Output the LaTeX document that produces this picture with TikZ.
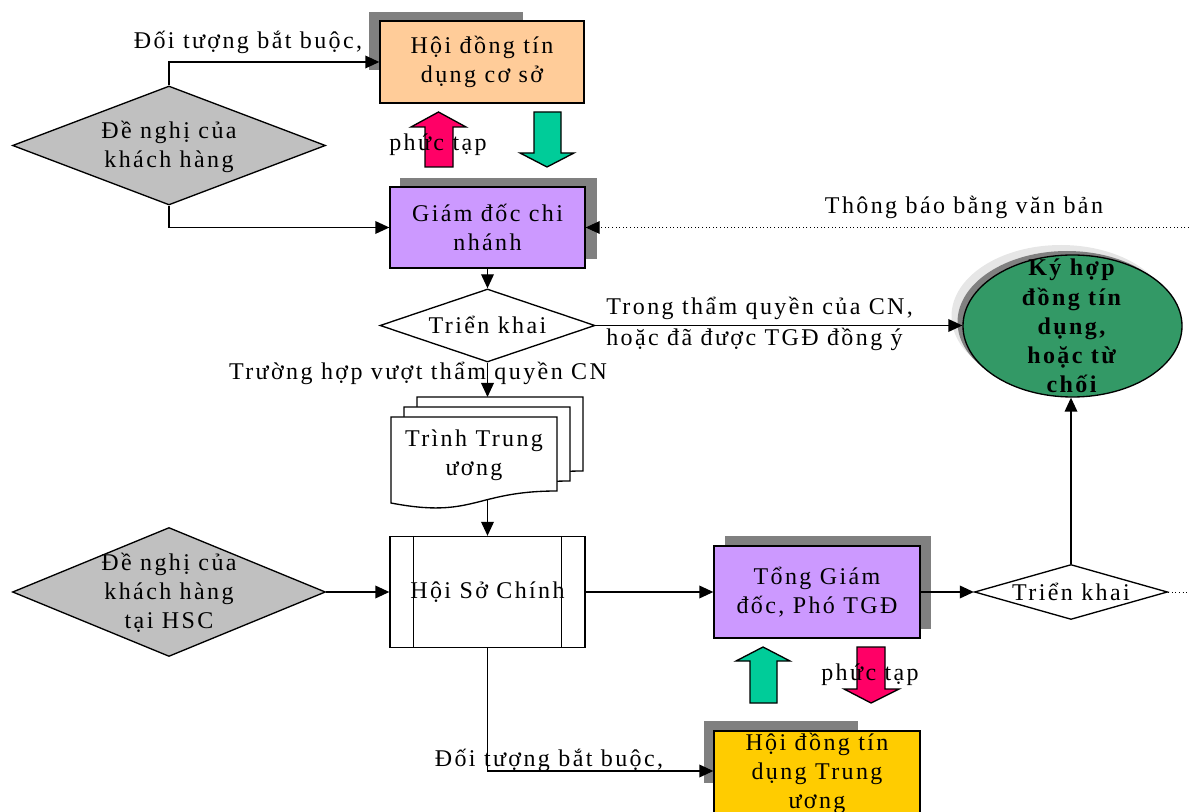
\documentclass[tikz,border=0pt]{standalone}
\usepackage{fontspec}
\setmainfont{Liberation Serif}[LetterSpace=10]
\usetikzlibrary{shapes.geometric,arrows.meta,calc}
\definecolor{orangebox}{HTML}{FFCC99}
\definecolor{purplebox}{HTML}{CC99FF}
\definecolor{yellowbox}{HTML}{FFCC00}
\definecolor{greyfill}{HTML}{C0C0C0}
\definecolor{shadowgrey}{HTML}{808080}
\definecolor{lightshadow}{HTML}{E6E6E6}
\definecolor{ellgreen}{HTML}{339966}
\definecolor{arrowpink}{HTML}{FF0066}
\definecolor{arrowgreen}{HTML}{00CC99}
\begin{document}
\begin{tikzpicture}[x=0.75pt,y=-0.75pt,
  every node/.style={font=\fontsize{18pt}{21.75pt}\selectfont},
  lbl/.style={align=center, inner sep=0pt},
  boxnode/.style={draw, line width=1pt, inner sep=0pt, align=center},
  dia/.style={diamond, draw, line width=1pt, inner sep=0pt},
  conn/.style={line width=1pt, -{Triangle[length=10.5pt,width=9.5pt]}},
  plainline/.style={line width=1pt},
  dots/.style={line width=0.7pt, dotted},
  shadowfill/.style={fill=shadowgrey},
  blockarrow/.style={draw, line width=1pt},
  page/.style={draw, fill=white, line width=1pt}
]
\useasboundingbox (0,0) rectangle (1189,812);

% ---------- shadows ----------
\fill[shadowfill] (369,12) rectangle (523,70);
\fill[shadowfill] (400,178) rectangle (597,259);
\fill[shadowfill] (725,536) rectangle (931,629);
\fill[shadowfill] (704,721) rectangle (858,783);

% ---------- boxes ----------
\node[boxnode, fill=orangebox, minimum width=153pt, minimum height=61.5pt] (hdcs) at (482,62) {Hội đồng tín\\dụng cơ sở};
\node[boxnode, fill=purplebox, minimum width=146.25pt, minimum height=60.75pt] (gdcn) at (487.5,227.5) {Giám đốc chi\\nhánh};
\node[boxnode, fill=purplebox, minimum width=154.5pt, minimum height=69pt] (tgd) at (817,592) {Tổng Giám\\đốc, Phó TGĐ};
\node[boxnode, fill=yellowbox, minimum width=154.5pt, minimum height=90pt] (hdtw) at (817,791) {};
\node[lbl, anchor=north] (hdtwt) at (817,733) {Hội đồng tín\\dụng Trung\\ương};

% Hoi So Chinh (predefined process)
\node[boxnode, fill=white, minimum width=146.25pt, minimum height=83.25pt] (hsc) at (487.5,592) {Hội Sở Chính};
\draw[plainline] ([xshift=18pt]hsc.north west) -- ([xshift=18pt]hsc.south west);
\draw[plainline] ([xshift=-18pt]hsc.north east) -- ([xshift=-18pt]hsc.south east);

% ---------- diamonds ----------
\node[dia, fill=greyfill, minimum width=234.75pt, minimum height=89.25pt] (d1) at (169,145.5) {};
\node[lbl] (d1t) at (169,147) {Đề nghị của\\khách hàng};
\node[dia, fill=white, minimum width=161.25pt, minimum height=54.75pt] (d2) at (487.5,325.5) {};
\node[lbl] (d2t) at (487.5,325) {Triển khai};
\node[dia, fill=greyfill, minimum width=234.75pt, minimum height=96.75pt] (d3) at (169,592) {};
\node[lbl] (d3t) at (169,593) {Đề nghị của\\khách hàng\\tại HSC};
\node[dia, fill=white, minimum width=144.75pt, minimum height=41.25pt] (d4) at (1071,592) {};
\node[lbl] (d4t) at (1071,592) {Triển khai};

% ---------- ellipse ----------
\fill[lightshadow] (1061,316) ellipse [x radius=109.5, y radius=71];
\fill[shadowgrey] (1067,322) ellipse [x radius=109.5, y radius=71];
\node[ellipse, draw, line width=1pt, fill=ellgreen, minimum width=164.25pt, minimum height=106.5pt, inner sep=0pt] (ell) at (1072.5,326) {};
\node[lbl, font=\fontsize{18pt}{21.9pt}\selectfont\bfseries] (ellt) at (1071.5,326) {Ký hợp\\đồng tín\\dụng,\\hoặc từ\\chối};

% ---------- multi-document ----------
\foreach \dx/\dy in {26/-20, 13/-10, 0/0}{
  \draw[page] (391+\dx,417+\dy) -- (557+\dx,417+\dy) -- (557+\dx,491+\dy)
    .. controls (474+\dx,491+\dy) and (474+\dx,519+\dy) .. (391+\dx,503+\dy) -- cycle;
}
\node[lbl] (doct) at (474,455) {Trình Trung\\ương};
\coordinate (doctop) at (487.5,397);
\coordinate (docbot) at (487.5,500);

% ---------- block arrows ----------
\filldraw[blockarrow, fill=arrowpink] (425,167) -- (425,127) -- (411,127) -- (438.5,112) -- (466,127) -- (453,127) -- (453,167) -- cycle;
\filldraw[blockarrow, fill=arrowgreen] (534,112) -- (561,112) -- (561,153) -- (574,153) -- (547,167) -- (520,153) -- (534,153) -- cycle;
\filldraw[blockarrow, fill=arrowgreen] (750,703) -- (750,661) -- (736,661) -- (763,647) -- (790,661) -- (777,661) -- (777,703) -- cycle;
\filldraw[blockarrow, fill=arrowpink] (857,647) -- (885,647) -- (885,689) -- (899,689) -- (871,703) -- (844,689) -- (857,689) -- cycle;
\node[lbl] (pt1) at (438,145) {phức tạp};
\node[lbl] (pt2) at (870,675) {phức tạp};

% ---------- connectors ----------
\coordinate (rightA) at (1189,227.5);
\coordinate (rightB) at (1189,592);
\draw[conn] (d1.north) |- (hdcs.west);
\draw[conn] (d1.south) |- (gdcn.west);
\draw[dots, -{Triangle[length=10.5pt,width=9.5pt]}] (rightA) -- (gdcn.east);
\draw[conn] (gdcn.south) -- (d2.north);
\draw[conn] (d2.east) -- (d2.east -| ell.west);
\draw[conn] (d2.south) -- (doctop);
\draw[conn] (docbot) -- (hsc.north);
\draw[conn] (d3.east) -- (hsc.west);
\draw[conn] (hsc.east) -- (tgd.west);
\draw[conn] (tgd.east) -- (d4.west);
\draw[dots] (d4.east) -- (rightB);
\draw[conn] (d4.north) -- (d4.north |- ell.south);
\draw[conn] (hsc.south) |- ([yshift=15pt]hdtw.west);

% ---------- labels ----------
\node[lbl] (l1) at (248,42) {Đối tượng bắt buộc,};
\node[lbl] (l2) at (964,207) {Thông báo bằng văn bản};
\node[lbl, align=left, anchor=west] (l3) at (606,324) {Trong thẩm quyền của CN,\\[1.5pt]hoặc đã được TGĐ đồng ý};
\node[lbl] (l4) at (418,373) {Trường hợp vượt thẩm quyền CN};
\node[lbl] (l5) at (549,760) {Đối tượng bắt buộc,};
\end{tikzpicture}
\end{document}
